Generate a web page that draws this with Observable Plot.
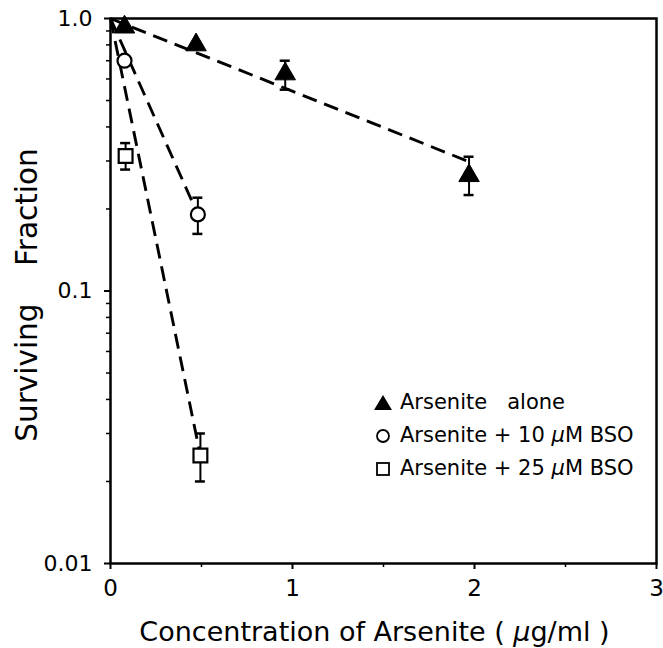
<!DOCTYPE html>
<html><head><meta charset="utf-8">
<script src="https://cdn.jsdelivr.net/npm/d3@7"></script>
<script src="https://cdn.jsdelivr.net/npm/@observablehq/plot@0.6"></script>
<style>
body{margin:0;background:#fff;}
#wrap{position:relative;width:663px;height:648px;font-family:"DejaVu Sans",sans-serif;}
#wrap svg text{white-space:pre;}
#legend{position:absolute;left:372px;top:386px;font-size:21px;line-height:33px;color:#000;white-space:pre;}
#legend .row{display:flex;align-items:center;height:33px;}
#legend svg{width:22px;height:22px;margin-right:6px;}
</style></head><body>
<div id="wrap"></div>
<script>
// ---- data ----
const seriesNames = ["Arsenite   alone", "Arsenite + 10 μM BSO", "Arsenite + 25 μM BSO"];
const triX = [0.077, 0.47, 0.96, 1.97];
const triY = [0.93, 0.80, 0.626, 0.265];
const circX = [0.077, 0.48];
const circY = [0.70, 0.191];
const sqX = [0.083, 0.494];
const sqY = [0.313, 0.0249];
// error bars
const errX  = [0.96, 1.97, 0.48, 0.083, 0.494];
const errLo = [0.548, 0.225, 0.162, 0.279, 0.020];
const errHi = [0.70, 0.311, 0.22, 0.349, 0.030];
// dashed fit lines: start and end of each
const fitX = [[0, 1.96], [0, 0.48], [0, 0.494]];
const fitY = [[1.0, 0.30], [1.0, 0.191], [1.0, 0.0249]];
// axes
const xTicks = [0, 1, 2, 3];
const xTickLabels = ["0", "1", "2", "3"];
const xMinor = [0.5, 1.5, 2.5];
const yTicks = [0.01, 0.1, 1];
const yTickLabels = ["0.01", "0.1", "1.0"];
const yMinor = [0.02,0.03,0.04,0.05,0.06,0.07,0.08,0.09,0.2,0.3,0.4,0.5,0.6,0.7,0.8,0.9];
const xLabel = "Concentration of Arsenite ( μg/ml )";
const yLabel = "Surviving    Fraction";

// ---- build tables ----
const pts = (xs, ys) => xs.map((x, i) => ({x, y: ys[i]}));
const tri = pts(triX, triY), circ = pts(circX, circY), sq = pts(sqX, sqY);
const errs = errX.map((x, i) => ({x, lo: errLo[i], hi: errHi[i]}));
const fits = fitX.map((xs, k) => pts(xs, fitY[k]));

const chart = Plot.plot({
  width: 663, height: 648,
  marginTop: 18, marginLeft: 110, marginRight: 7, marginBottom: 85,
  x: {domain: [0, 3]},
  y: {type: "log", domain: [0.01, 1]},
  style: {fontFamily: "DejaVu Sans, sans-serif", color: "#000", background: "#fff"},
  marks: [
    Plot.axisX(xMinor, {tickSize: 4, strokeWidth: 1.5, tickFormat: () => "", label: null}),
    Plot.axisX(xTicks, {tickSize: 6, strokeWidth: 2, tickPadding: 10, fontSize: 23,
      tickFormat: d => xTickLabels[xTicks.indexOf(d)], label: null}),
    Plot.axisY(yMinor, {tickSize: 4, strokeWidth: 1.5, tickFormat: () => "", label: null}),
    Plot.axisY(yTicks, {tickSize: 6, strokeWidth: 2, tickPadding: 12, fontSize: 22,
      tickFormat: d => yTickLabels[yTicks.indexOf(d)], label: null}),
    ...fits.map(f => Plot.line(f, {x: "x", y: "y", stroke: "#000", strokeWidth: 2.9,
      strokeDasharray: "15,8", strokeLinecap: "butt"})),
    Plot.ruleX(errs, {x: "x", y1: "lo", y2: "hi", stroke: "#000", strokeWidth: 2}),
    Plot.ruleY(errs, {y: "hi", x1: "x", x2: "x", insetLeft: -5, insetRight: -5, stroke: "#000", strokeWidth: 2.5}),
    Plot.ruleY(errs, {y: "lo", x1: "x", x2: "x", insetLeft: -5, insetRight: -5, stroke: "#000", strokeWidth: 2.5}),
    Plot.dot(tri, {x: "x", y: "y", symbol: "triangle", r: 7.6, fill: "#000", stroke: "#000", strokeWidth: 1}),
    Plot.dot(circ, {x: "x", y: "y", symbol: "circle", r: 7, fill: "#fff", stroke: "#000", strokeWidth: 2.2}),
    Plot.dot(sq, {x: "x", y: "y", symbol: "square", r: 7.8, fill: "#fff", stroke: "#000", strokeWidth: 2.2}),
    Plot.frame({stroke: "#000", strokeWidth: 2.5}),
    Plot.text([xLabel], {frameAnchor: "bottom", dy: 69, dx: -9, fontSize: 27, lineAnchor: "middle", fill: "#000"}),
    Plot.text([yLabel], {frameAnchor: "left", textAnchor: "middle", rotate: -90, dx: -83, dy: 4, fontSize: 29.5, lineAnchor: "middle", fill: "#000"})
  ]
});
document.getElementById("wrap").appendChild(chart);

// italic mu inside svg texts
chart.querySelectorAll("text").forEach(t => {
  if (t.textContent.includes("μ") && t.children.length === 0) {
    const parts = t.textContent.split("μ");
    t.textContent = "";
    parts.forEach((p, i) => {
      if (i > 0) {
        const s = document.createElementNS("http://www.w3.org/2000/svg", "tspan");
        s.setAttribute("font-style", "italic"); s.textContent = "μ"; t.appendChild(s);
      }
      t.appendChild(document.createTextNode(p));
    });
  }
});

// legend
const icons = [
  '<svg viewBox="-11 -11 22 22"><path d="M0,-8L9,7L-9,7Z" fill="#000"/></svg>',
  '<svg viewBox="-11 -11 22 22"><circle r="6" fill="#fff" stroke="#000" stroke-width="1.8"/></svg>',
  '<svg viewBox="-11 -11 22 22"><rect x="-6" y="-6" width="12" height="12" fill="#fff" stroke="#000" stroke-width="1.8"/></svg>'
];
const legend = document.createElement("div");
legend.id = "legend";
legend.innerHTML = seriesNames.map((n, i) =>
  `<div class="row">${icons[i]}<span>${n.replace("μ", "<i>μ</i>")}</span></div>`).join("");
document.getElementById("wrap").appendChild(legend);
</script>
</body></html>
